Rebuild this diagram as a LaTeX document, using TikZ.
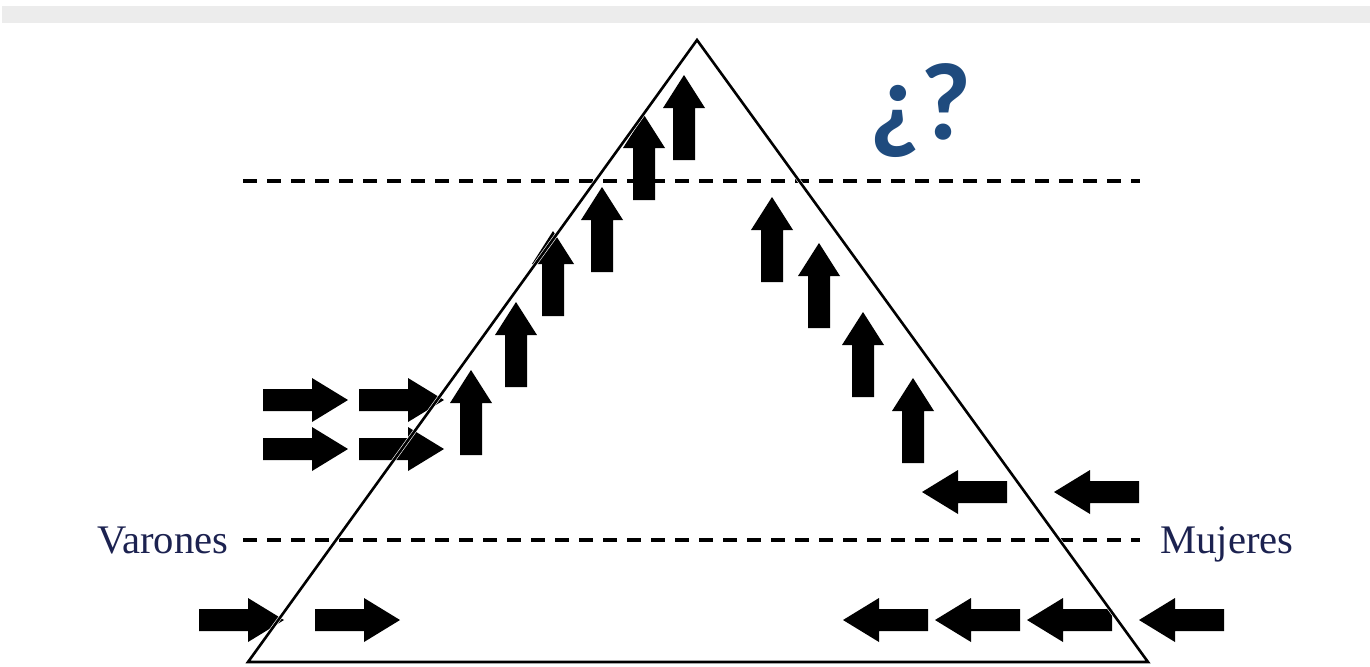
\documentclass[tikz,border=0pt]{standalone}
\usepackage{fontspec}
\setmainfont{Liberation Serif}
\newfontfamily\qfont{Carlito}
\definecolor{barGray}{HTML}{ECECEC}
\definecolor{qBlue}{HTML}{1F4B7E}
\definecolor{labNavy}{HTML}{1C2250}
\newcommand\uarr[2]{\fill[black] (#1-11,#2) -- (#1-11,#2-52) -- (#1-21,#2-52) -- (#1,#2-85) -- (#1+21,#2-52) -- (#1+11,#2-52) -- (#1+11,#2) -- cycle;}
\newcommand\rarr[2]{\fill[black] (#1,#2-11) -- (#1+49,#2-11) -- (#1+49,#2-22) -- (#1+85,#2) -- (#1+49,#2+22) -- (#1+49,#2+11) -- (#1,#2+11) -- cycle;}
\newcommand\larr[2]{\fill[black] (#1+85,#2-11) -- (#1+36,#2-11) -- (#1+36,#2-22) -- (#1,#2) -- (#1+36,#2+22) -- (#1+36,#2+11) -- (#1+85,#2+11) -- cycle;}
\begin{document}
\begin{tikzpicture}[x=0.5pt,y=-0.5pt,
  dashline/.style={line width=1.8pt,dash pattern=on 7pt off 5pt},
  lab/.style={font=\fontsize{20.3}{23}\selectfont,text=labNavy,inner sep=0pt}]
\useasboundingbox (0,0) rectangle (1370,666);
\fill[barGray] (2,6) rectangle (1370,23);
% dashed levels
\coordinate (d1a) at (243,181); \coordinate (d1b) at (1140,181);
\coordinate (d2a) at (243,540); \coordinate (d2b) at (1140,540);
\draw[dashline] (d1a) -- (d1b);
\draw[dashline] (d2a) -- (d2b);
% arrows up
\uarr{471}{455}\uarr{516}{387}\uarr{553}{316}\uarr{602}{272}\uarr{644}{200}\uarr{684}{160}
\uarr{772}{282}\uarr{819}{328}\uarr{863}{397}\uarr{913}{463}
% arrows right
\rarr{263}{400}\rarr{359}{400}\rarr{263}{449}\rarr{359}{449}\rarr{199}{620}\rarr{315}{620}
% arrows left
\larr{922}{492}\larr{1054}{492}\larr{843}{620}\larr{935}{620}\larr{1027}{620}\larr{1139}{620}
% triangle
\coordinate (apex) at (697,40); \coordinate (bl) at (248,662); \coordinate (br) at (1148,662);
\draw[white,line width=1.9pt,line join=miter] (apex) -- (bl) -- (br) -- cycle;
\draw[black,line width=1.3pt,line join=miter] (apex) -- (bl) -- (br) -- cycle;
% labels
\node[lab,anchor=base west] (var) at (97,553) {Varones};
\node[lab,anchor=base west] (muj) at (1160,553) {Mujeres};
\node[inner sep=0pt,anchor=base west,text=qBlue,font=\qfont\bfseries\fontsize{55}{60}\selectfont] (q) at (869,139) {¿?};
\end{tikzpicture}
\end{document}
